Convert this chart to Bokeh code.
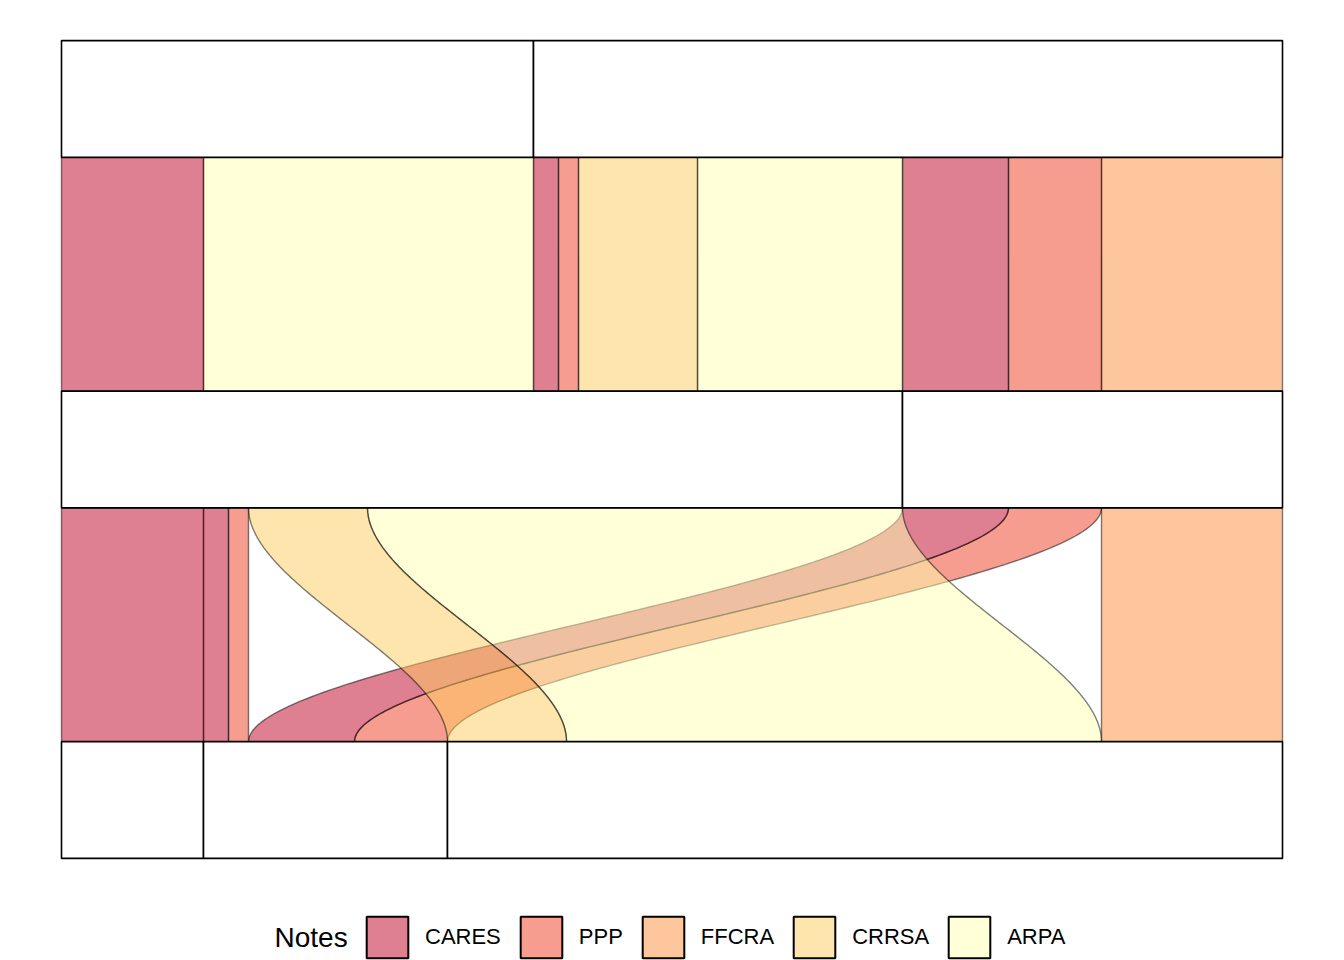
import numpy as np
from bokeh.plotting import figure
from bokeh.models import Range1d, Legend, LegendItem, Label, ColumnDataSource
from bokeh.embed import file_html
from bokeh.resources import INLINE

# ---- data ----
notes = ["CARES", "PPP", "FFCRA", "CRRSA", "ARPA"]
note_colors = ["#BD0026", "#F03B20", "#FD8D3C", "#FECC5C", "#FFFFB2"]

axis_pos = [1, 2, 3]
axis1_strata = ["A", "B"]
axis2_strata = ["C", "D"]
axis3_strata = ["E", "F", "G"]

flow12_from = ["A", "A", "B", "B", "B", "B", "B", "B", "B"]
flow12_to = ["C", "C", "C", "C", "C", "C", "D", "D", "D"]
flow12_note = ["CARES", "ARPA", "CARES", "PPP", "CRRSA", "ARPA", "CARES", "PPP", "FFCRA"]
flow12_value = [142, 330, 25, 20, 119, 205, 106, 93, 181]

flow23_from = ["C", "C", "C", "C", "C", "D", "D", "D"]
flow23_to = ["E", "F", "F", "G", "G", "F", "F", "G"]
flow23_note = ["CARES", "CARES", "PPP", "CRRSA", "ARPA", "CARES", "PPP", "FFCRA"]
flow23_value = [142, 25, 20, 119, 535, 106, 93, 181]

HALF = 1.0 / 6.0  # stratum half-width (in axis units)
color_of = dict(zip(notes, note_colors))


def strata_extents(order, names, values):
    tot = {s: 0.0 for s in order}
    for n, v in zip(names, values):
        tot[n] += v
    ext, c = {}, 0.0
    for s in order:
        ext[s] = (c, c + tot[s])
        c += tot[s]
    return ext


def flow_positions(src_order, dst_order, frm, to, note, val):
    n = len(val)
    src_ext = strata_extents(src_order, frm, val)
    dst_ext = strata_extents(dst_order, to, val)
    src_pos, dst_pos = [None] * n, [None] * n
    for s in src_order:
        idx = [i for i in range(n) if frm[i] == s]
        idx.sort(key=lambda i: (dst_order.index(to[i]), notes.index(note[i])))
        c = src_ext[s][0]
        for i in idx:
            src_pos[i] = (c, c + val[i])
            c += val[i]
    for s in dst_order:
        idx = [i for i in range(n) if to[i] == s]
        idx.sort(key=lambda i: (src_order.index(frm[i]), notes.index(note[i])))
        c = dst_ext[s][0]
        for i in idx:
            dst_pos[i] = (c, c + val[i])
            c += val[i]
    return src_pos, dst_pos, src_ext, dst_ext


p = figure(width=1328, height=960, output_backend="svg", toolbar_location=None,
           x_range=Range1d(-61, 1267), y_range=Range1d(3.4579, 0.71897),
           min_border=0, outline_line_color=None)
p.axis.visible = False
p.grid.visible = False
p.background_fill_color = "white"
p.border_fill_color = "white"

t = np.linspace(0, 1, 100)
s = 3 * t ** 2 - 2 * t ** 3

segments = [
    (axis_pos[0], axis1_strata, axis2_strata, flow12_from, flow12_to, flow12_note, flow12_value),
    (axis_pos[1], axis2_strata, axis3_strata, flow23_from, flow23_to, flow23_note, flow23_value),
]
strata_boxes = []
for a, so, do, fr, to, nt, vl in segments:
    sp, dp, se, de = flow_positions(so, do, fr, to, nt, vl)
    y0, y1 = a + HALF, a + 1 - HALF
    ys_edge = y0 + (y1 - y0) * t
    xs_list, ys_list, cols = [], [], []
    for i in reversed(range(len(vl))):
        xl = sp[i][0] + (dp[i][0] - sp[i][0]) * s
        xr = sp[i][1] + (dp[i][1] - sp[i][1]) * s
        xs_list.append(np.concatenate([xl, xr[::-1]]).tolist())
        ys_list.append(np.concatenate([ys_edge, ys_edge[::-1]]).tolist())
        cols.append(color_of[nt[i]])
    p.patches(xs=xs_list, ys=ys_list, fill_color=cols, fill_alpha=0.5,
              line_color="black", line_alpha=0.5, line_width=1.4)
    for st in so:
        strata_boxes.append((se[st][0], se[st][1], a))
    if a == axis_pos[-2]:
        for st in do:
            strata_boxes.append((de[st][0], de[st][1], a + 1))

p.quad(left=[b[0] for b in strata_boxes], right=[b[1] for b in strata_boxes],
       top=[b[2] - HALF for b in strata_boxes], bottom=[b[2] + HALF for b in strata_boxes],
       fill_color="white", line_color="black", line_width=1.6)

# ---- legend (key glyphs only; no visible marks) ----
nan = float("nan")
key_src = ColumnDataSource(dict(x=[nan] * len(notes), y=[nan] * len(notes), c=note_colors))
key_r = p.rect(x="x", y="y", width=1, height=1, source=key_src, fill_color="c",
               fill_alpha=0.5, line_color="black", line_width=2)
items = [LegendItem(label=n, renderers=[key_r], index=i) for i, n in enumerate(notes)]

legend = Legend(items=items, orientation="horizontal", location=(361, -3),
                glyph_width=52, glyph_height=52, label_standoff=12, spacing=14,
                padding=0, margin=0, border_line_color=None, background_fill_alpha=0,
                label_text_font="Liberation Sans", label_text_font_size="22px",
                label_text_color="black", label_width=10)
p.add_layout(legend)

p.add_layout(Label(x=274, y=23, x_units="screen", y_units="screen", text="Notes",
                   text_baseline="middle", text_font="Liberation Sans",
                   text_font_size="28px", text_color="black"))

open("out.html", "w").write(file_html(p, INLINE))
